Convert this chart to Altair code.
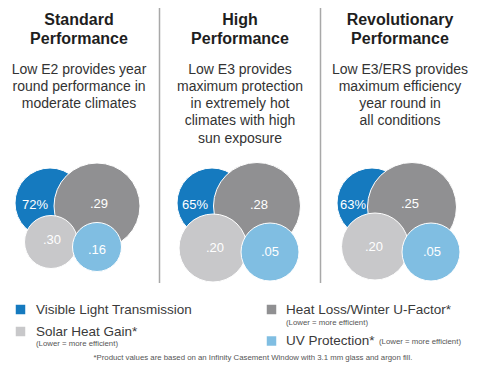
import altair as alt
import pandas as pd

# ---------------- data ----------------
panel_titles = [["Standard", "Performance"], ["High", "Performance"], ["Revolutionary", "Performance"]]
descriptions = [
    ["Low E2 provides year", "round performance in", "moderate climates"],
    ["Low E3 provides", "maximum protection", "in extremely hot", "climates with high", "sun exposure"],
    ["Low E3/ERS provides", "maximum efficiency", "year round in", "all conditions"],
]
metrics = ["Visible Light Transmission", "Heat Loss/Winter U-Factor*", "Solar Heat Gain*", "UV Protection*"]
visible_light = [72, 65, 63]
u_factor = [0.29, 0.28, 0.25]
solar_heat_gain = [0.30, 0.20, 0.20]
uv_protection = [0.16, 0.05, 0.05]
legend_note = "(Lower = more efficient)"
footnote = "*Product values are based on an Infinity Casement Window with 3.1 mm glass and argon fill."

# ---------------- layout (page pixels) & styles ----------------
colors = ["#157abf", "#909092", "#c8c8ca", "#80bee2"]
panel_cx = [79, 240, 400]
circle_layout = {
    metrics[0]: [(50, 203, 35), (212, 203, 35), (372, 203, 35)],
    metrics[1]: [(97, 206, 43), (257, 206, 43.5), (412, 207, 44.5)],
    metrics[2]: [(51, 242, 26.5), (213, 248, 34), (375, 246.5, 33.5)],
    metrics[3]: [(97, 247, 24.5), (270, 252, 29), (431, 252, 29)],
}
label_pos = {
    metrics[0]: [(35, 205), (195, 205), (353, 205)],
    metrics[1]: [(99, 204), (259, 205), (410, 204)],
    metrics[2]: [(52, 240), (215, 248), (374, 247)],
    metrics[3]: [(97, 250), (270, 252), (432, 252)],
}
FONT = "Liberation Sans"


def X(f="x"):
    return alt.X(f"{f}:Q", scale=alt.Scale(domain=[8, 474], nice=False, zero=False), axis=None)


def Y(f="y"):
    return alt.Y(f"{f}:Q", scale=alt.Scale(domain=[8, 362], reverse=True, nice=False, zero=False), axis=None)


# circles
values = {metrics[0]: visible_light, metrics[1]: u_factor, metrics[2]: solar_heat_gain, metrics[3]: uv_protection}
rows, lab_rows = [], []
order = 0
for m in metrics:
    for p in range(3):
        cx, cy, r = circle_layout[m][p]
        v = values[m][p]
        lab = f"{v}%" if m == metrics[0] else f"{v:.2f}".lstrip("0")
        rows.append(dict(x=cx, y=cy, size=4 * r * r, metric=m, order=order))
        lx, ly = label_pos[m][p]
        lab_rows.append(dict(x=lx, y=ly, text=lab))
        order += 1
circ_df = pd.DataFrame(rows)
lab_df = pd.DataFrame(lab_rows)

circles = alt.Chart(circ_df).mark_circle(opacity=1, stroke="white", strokeWidth=1).encode(
    x=X(), y=Y(),
    size=alt.Size("size:Q", scale=None),
    color=alt.Color("metric:N", scale=alt.Scale(domain=metrics, range=colors), legend=None),
    order=alt.Order("order:Q"),
)
circle_labels = alt.Chart(lab_df).mark_text(font=FONT, fontSize=13, color="white", align="center", baseline="middle").encode(
    x=X(), y=Y(), text="text:N")

# titles and descriptions
t_rows, d_rows = [], []
for p in range(3):
    for i, line in enumerate(panel_titles[p]):
        t_rows.append(dict(x=panel_cx[p], y=20 + i * 19, text=line))
    for i, line in enumerate(descriptions[p]):
        d_rows.append(dict(x=panel_cx[p], y=69.5 + i * 17.3, text=line))
titles = alt.Chart(pd.DataFrame(t_rows)).mark_text(font=FONT, fontSize=16, fontWeight="bold", color="#1e1e1e",
                                                   align="center", baseline="middle").encode(x=X(), y=Y(), text="text:N")
descs = alt.Chart(pd.DataFrame(d_rows)).mark_text(font=FONT, fontSize=14, color="#333333",
                                                  align="center", baseline="middle").encode(x=X(), y=Y(), text="text:N")

# separators
sep = alt.Chart(pd.DataFrame([dict(x=159.5, y=4, y2=283), dict(x=320.5, y=4, y2=283)])).mark_rule(
    color="#a8a8a8", strokeWidth=1.5).encode(x=X(), y=Y(), y2=alt.Y2("y2:Q"))

# legend
sq_df = pd.DataFrame([
    dict(x=20.5, y=309.5, metric=metrics[0]),
    dict(x=20.5, y=331.5, metric=metrics[2]),
    dict(x=271.5, y=309.5, metric=metrics[1]),
    dict(x=271.5, y=341, metric=metrics[3]),
])
squares = alt.Chart(sq_df).mark_square(size=90, opacity=1).encode(
    x=X(), y=Y(), color=alt.Color("metric:N", scale=alt.Scale(domain=metrics, range=colors), legend=None))
leg_df = pd.DataFrame([
    dict(x=36, y=310, text="Visible Light Transmission"),
    dict(x=36, y=331.5, text="Solar Heat Gain*"),
    dict(x=286, y=310, text="Heat Loss/Winter U-Factor*"),
    dict(x=286, y=341, text="UV Protection*"),
])
leg_text = alt.Chart(leg_df).mark_text(font=FONT, fontSize=13.5, color="#3a3a3a", align="left", baseline="middle").encode(
    x=X(), y=Y(), text="text:N")
note_df = pd.DataFrame([
    dict(x=36, y=343.5, text=legend_note),
    dict(x=286, y=322.5, text=legend_note),
    dict(x=379, y=342, text=legend_note),
])
notes = alt.Chart(note_df).mark_text(font=FONT, fontSize=7.8, color="#555555", align="left", baseline="middle").encode(
    x=X(), y=Y(), text="text:N")
foot = alt.Chart(pd.DataFrame([dict(x=253, y=357.5, text=footnote)])).mark_text(
    font=FONT, fontSize=7.8, color="#555555", align="center", baseline="middle").encode(x=X(), y=Y(), text="text:N")

chart = alt.layer(sep, circles, circle_labels, titles, descs, squares, leg_text, notes, foot).properties(
    width=466, height=354, padding=0, autosize=alt.AutoSizeParams(type="none"),
    background="white",
).configure_view(strokeWidth=0)

chart.save("out.html", embed_options={"renderer": "svg", "actions": False})
